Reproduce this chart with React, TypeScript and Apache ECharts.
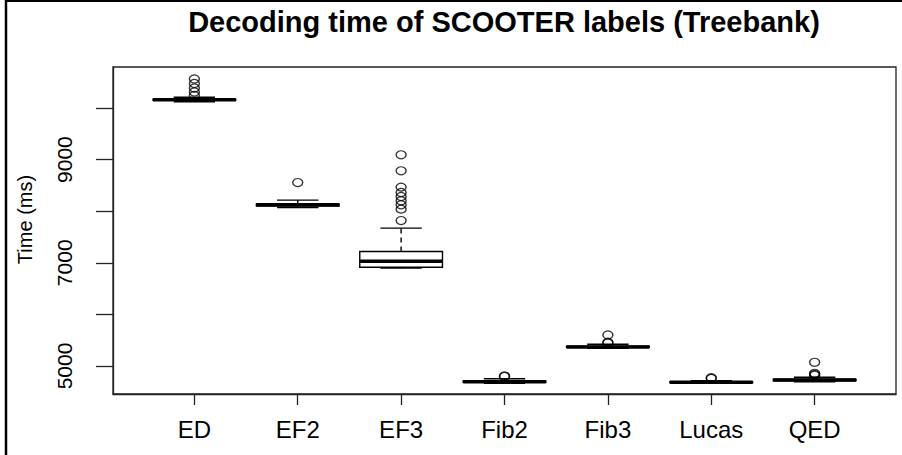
import React, { useEffect, useRef } from "react";
import * as echarts from "echarts";

const categories = ["ED", "EF2", "EF3", "Fib2", "Fib3", "Lucas", "QED"];
const lowWhisker = [10122, 8071, 6896, 4664, 5343, 4664, 4695];
const q1 = [10150, 8100, 6915, 4685, 5360, 4676, 4715];
const median = [10161, 8124, 7031, 4695, 5369, 4684, 4728];
const q3 = [10172, 8140, 7218, 4708, 5385, 4696, 4742];
const highWhisker = [10208, 8215, 7672, 4754, 5421, 4715, 4781];
const outliers = [
  [10563, 10476, 10388, 10311, 10243],
  [8556],
  [9094, 8783, 8467, 8363, 8285, 8201, 8124, 8040, 7819],
  [4806, 4795],
  [5601, 5460, 5445],
  [4760, 4772],
  [5072, 4858, 4835, 4820],
];
const yTicks = [5000, 6000, 7000, 8000, 9000, 10000];
const yLabels = [5000, 7000, 9000];
const xPositions = [1, 2, 3, 4, 5, 6, 7];

export default function App() {
  const ref = useRef<HTMLDivElement>(null);
  useEffect(() => {
    if (!ref.current) return;
    const chart = echarts.init(ref.current, null, { renderer: "svg" });
    const boxData = categories.map((_, i) => [
      i + 1,
      lowWhisker[i],
      q1[i],
      median[i],
      q3[i],
      highWhisker[i],
    ]);
    const outlierData: number[][] = [];
    outliers.forEach((arr, i) => arr.forEach((v) => outlierData.push([i + 1, v])));
    const font = "Liberation Sans, Arial, sans-serif";
    chart.setOption({
      animation: false,
      title: {
        text: "Decoding time of SCOOTER labels (Treebank)",
        left: 499,
        top: 2,
        textAlign: "center",
        textStyle: { fontFamily: font, fontWeight: "bold", fontSize: 29, color: "#000" },
      },
      graphic: [
        { type: "line", shape: { x1: 6, y1: 0, x2: 6, y2: 455 }, style: { stroke: "#000", lineWidth: 2.5 } },
        { type: "line", shape: { x1: 5, y1: 1, x2: 902, y2: 1 }, style: { stroke: "#000", lineWidth: 2 } },
      ],
      grid: {
        left: 113,
        right: 6,
        top: 67,
        bottom: 61,
        show: true,
        borderColor: "#222",
        borderWidth: 1.3,
        backgroundColor: "transparent",
      },
      xAxis: {
        type: "value",
        min: 0.213,
        max: 7.787,
        splitLine: { show: false },
        axisLine: { show: true, lineStyle: { color: "#222", width: 1.3 } },
        axisTick: { show: true, customValues: xPositions, length: 11, lineStyle: { color: "#222", width: 1.3 } },
        axisLabel: {
          customValues: xPositions,
          formatter: (v: number) => categories[Math.round(v) - 1] ?? "",
          fontFamily: font,
          fontSize: 24,
          color: "#000",
          margin: 23,
        },
      },
      yAxis: {
        type: "value",
        min: 4457,
        max: 10795,
        name: "Time (ms)",
        nameLocation: "middle",
        nameGap: 78,
        nameTextStyle: { fontFamily: font, fontSize: 20, color: "#000", padding: [0, 0, 0, 22] },
        splitLine: { show: false },
        axisLine: { show: true, lineStyle: { color: "#222", width: 1.3 } },
        axisTick: { show: true, customValues: yTicks, length: 17, lineStyle: { color: "#222", width: 1.3 } },
        axisLabel: {
          customValues: yLabels,
          formatter: (v: number) => String(v),
          rotate: 90,
          fontFamily: font,
          fontSize: 21,
          color: "#000",
          margin: 38,
        },
      },
      series: [
        {
          type: "custom",
          data: boxData,
          encode: { x: 0, y: [1, 2, 3, 4, 5] },
          renderItem: (params: any, api: any) => {
            const x = api.value(0);
            const lo = api.coord([x, api.value(1)]);
            const b1 = api.coord([x, api.value(2)]);
            const md = api.coord([x, api.value(3)]);
            const b3 = api.coord([x, api.value(4)]);
            const hi = api.coord([x, api.value(5)]);
            const boxW = api.size([0.8, 0])[0];
            const stW = boxW / 2;
            const cx = lo[0];
            const dashed = { stroke: "#000", lineWidth: 1.4, lineDash: [5, 4] };
            const solid = { stroke: "#000", lineWidth: 1.4 };
            return {
              type: "group",
              children: [
                { type: "line", shape: { x1: cx, y1: b1[1], x2: cx, y2: lo[1] }, style: dashed },
                { type: "line", shape: { x1: cx, y1: b3[1], x2: cx, y2: hi[1] }, style: dashed },
                { type: "line", shape: { x1: cx - stW / 2, y1: lo[1], x2: cx + stW / 2, y2: lo[1] }, style: solid },
                { type: "line", shape: { x1: cx - stW / 2, y1: hi[1], x2: cx + stW / 2, y2: hi[1] }, style: solid },
                {
                  type: "rect",
                  shape: { x: cx - boxW / 2, y: b3[1], width: boxW, height: b1[1] - b3[1] },
                  style: { fill: "#fff", stroke: "#000", lineWidth: 1.4 },
                },
                {
                  type: "line",
                  shape: { x1: cx - boxW / 2, y1: md[1], x2: cx + boxW / 2, y2: md[1] },
                  style: { stroke: "#000", lineWidth: 3.5 },
                },
              ],
            };
          },
        },
        {
          type: "scatter",
          data: outlierData,
          symbol: "circle",
          symbolSize: [10, 8],
          itemStyle: { color: "rgba(0,0,0,0)", borderColor: "#000", borderWidth: 1.3 },
          z: 5,
        },
      ],
    });
    return () => chart.dispose();
  }, []);
  return (
    <div
      ref={ref}
      style={{ position: "fixed", left: 0, top: 0, width: 902, height: 455, background: "#fff" }}
    />
  );
}
